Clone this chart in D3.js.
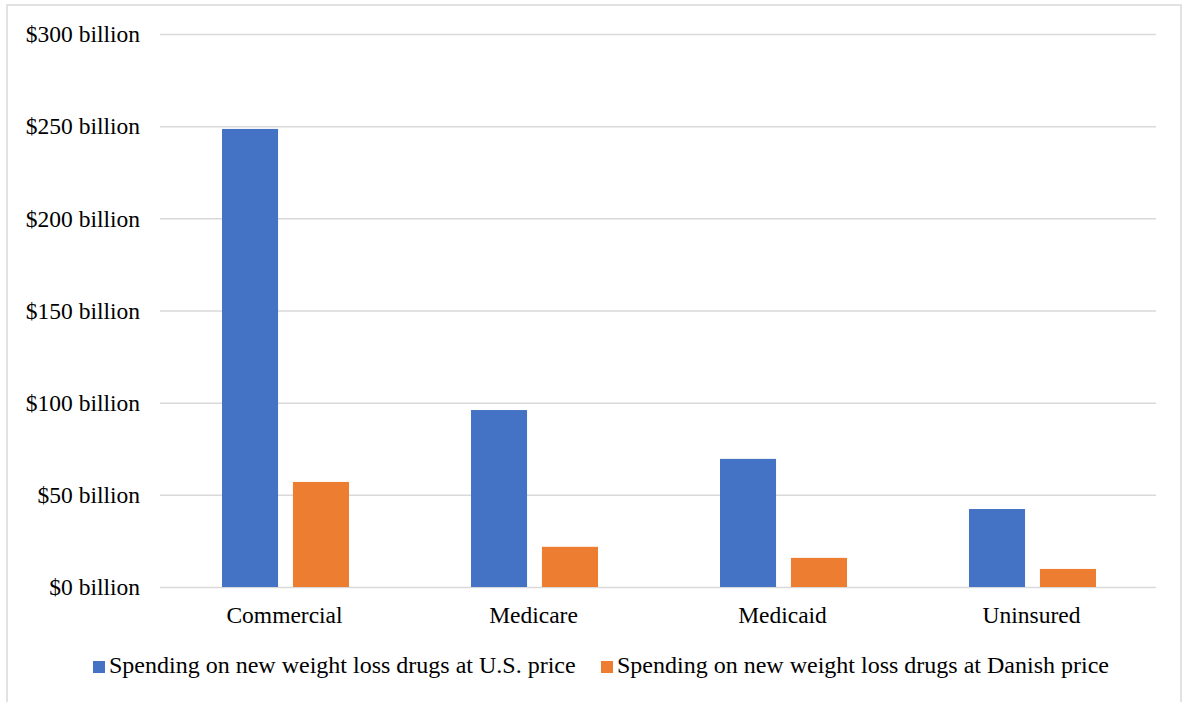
<!DOCTYPE html>
<html>
<head>
<meta charset="utf-8">
<script src="https://cdn.jsdelivr.net/npm/d3@7"></script>
<style>
  body { margin: 0; background: #fff; }
  svg { display: block; font-family: "Liberation Serif", "Times New Roman", serif; }
</style>
</head>
<body>
<div id="chart"></div>
<script>
// data (billions of dollars)
let categories = ["Commercial", "Medicare", "Medicaid", "Uninsured"];
let seriesNames = ["Spending on new weight loss drugs at U.S. price",
                   "Spending on new weight loss drugs at Danish price"];
let usPrice = [248.5, 96, 69.5, 42.3];
let danishPrice = [57, 21.8, 15.8, 9.8];
let yTicks = [0, 50, 100, 150, 200, 250, 300];
let colors = ["#4472c4", "#ed7d31"];

let width = 1185, height = 702;
let margin = {top: 34, right: 29, bottom: 115, left: 160};
let plotW = width - margin.left - margin.right,
    plotH = height - margin.top - margin.bottom;

let rows = categories.map((c, i) => ({cat: c, vals: [usPrice[i], danishPrice[i]]}));

let svg = d3.select("#chart").append("svg")
    .attr("width", width)
    .attr("height", height);

// outer frame
svg.append("rect")
    .attr("x", 7).attr("y", 5)
    .attr("width", 1174).attr("height", 710)
    .attr("fill", "none")
    .attr("stroke", "#d9d9d9")
    .attr("stroke-width", 1.5);

let g = svg.append("g")
    .attr("transform", "translate(" + margin.left + "," + margin.top + ")");

let x0 = d3.scaleBand()
    .domain(categories)
    .range([0, plotW])
    .paddingInner(0.49)
    .paddingOuter(0.245);

let x1 = d3.scaleBand()
    .domain([0, 1])
    .range([0, x0.bandwidth()])
    .paddingInner(0.21);

let y = d3.scaleLinear()
    .domain([0, 300])
    .range([plotH, 0]);

// gridlines + y labels
let yAxis = g.append("g")
    .call(d3.axisLeft(y)
        .tickValues(yTicks)
        .tickSize(-plotW)
        .tickPadding(20)
        .tickFormat(d => "$" + d + " billion"));
yAxis.select(".domain").remove();
yAxis.selectAll(".tick line")
    .attr("stroke", "#d9d9d9")
    .attr("stroke-width", 1.5);
yAxis.selectAll(".tick text")
    .attr("font-size", "23.5px")
    .attr("font-family", "Liberation Serif, serif")
    .attr("fill", "#000")
    .attr("dy", "0.33em");

// bars
g.selectAll(".group")
    .data(rows)
    .join("g")
    .attr("class", "group")
    .attr("transform", d => "translate(" + (x0(d.cat) + 1) + ",0)")
    .selectAll("rect")
    .data(d => d.vals.map((v, k) => ({k: k, v: v})))
    .join("rect")
    .attr("x", d => x1(d.k))
    .attr("y", d => y(d.v))
    .attr("width", x1.bandwidth())
    .attr("height", d => plotH - y(d.v))
    .attr("fill", d => colors[d.k]);

// category labels
let xAxis = g.append("g")
    .attr("transform", "translate(0," + plotH + ")")
    .call(d3.axisBottom(x0).tickSize(0).tickPadding(19));
xAxis.select(".domain").remove();
xAxis.selectAll(".tick text")
    .attr("font-size", "23.5px")
    .attr("font-family", "Liberation Serif, serif")
    .attr("fill", "#000");

// legend
let legendX = [93, 601];
let legend = svg.selectAll(".legend")
    .data(seriesNames)
    .join("g")
    .attr("class", "legend")
    .attr("transform", (d, i) => "translate(" + legendX[i] + ",661)");

legend.append("rect")
    .attr("width", 12).attr("height", 12)
    .attr("fill", (d, i) => colors[i]);

legend.append("text")
    .attr("x", 16)
    .attr("y", 12)
    .attr("font-size", "24px")
    .attr("fill", "#000")
    .text(d => d);
</script>
</body>
</html>
